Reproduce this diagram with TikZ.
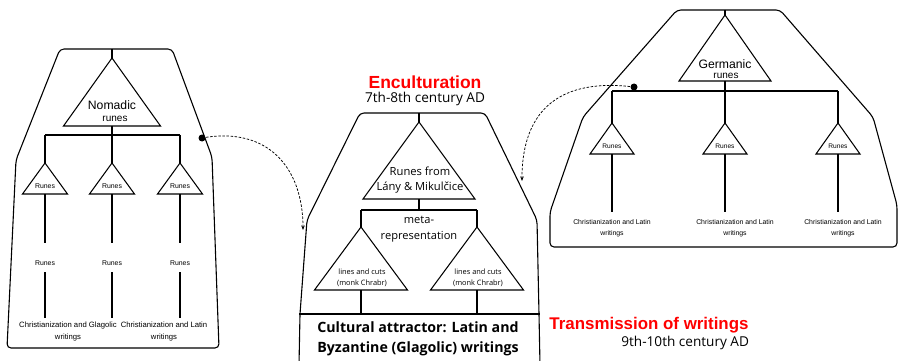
\documentclass[tikz,border=0pt]{standalone}
\usepackage{fontspec}
\setmainfont{Liberation Sans}
\newfontfamily\opensans{Open Sans}
\usetikzlibrary{arrows.meta}
\tikzset{
  ln/.style={line width=1.05pt, black},
  outline/.style={line width=1.1pt, black, rounded corners=4pt},
  tri/.style={line width=1.05pt, black, line join=miter},
  txt/.style={inner sep=0pt, outer sep=0pt, align=center, text=black},
  dashy/.style={line width=0.75pt, dash pattern=on 2.5pt off 1.6pt, -{Stealth[length=4.5pt,width=3.5pt]}},
  dotty/.style={circle, fill=black, minimum size=7pt, inner sep=0pt},
  smallrunes/.style={txt, font=\fontsize{6.9}{8}\selectfont},
  redtitle/.style={txt, text=red, font=\fontsize{17.5}{20}\selectfont\bfseries},
}
\begin{document}
\begin{tikzpicture}[x=1pt,y=-1pt]
\useasboundingbox (0,0) rectangle (898,361);
\fill[white] (0,0) rectangle (898,361);

% ---------------- Left panel ----------------
\draw[outline] (60,49) -- (172,49) -- (212,157) -- (219,348) -- (7,348) -- (16,160) -- cycle;
\coordinate (lTop) at (112,49);
\coordinate (nApex) at (112,58);
\coordinate (nBase) at (112,126);
\draw[tri] (nApex) -- (160.5,126) -- (63.5,126) -- cycle;
\node[txt, font=\fontsize{12.2}{14}\selectfont] (nomadic) at (112,105) {Nomadic};
\node[txt, font=\fontsize{10}{12}\selectfont] (nruneslbl) at (115,119) {runes};
\draw[ln] (lTop) -- (nApex);
\coordinate (lBarM) at (112,135);
\coordinate (lBarL) at (45,135);
\coordinate (lBarR) at (180,135);
\draw[ln] (nBase) -- (lBarM);
\draw[ln] (lBarL) -- (lBarR);
\foreach \cx/\nm in {45/a,112/b,180/c}{
  \coordinate (lA\nm) at (\cx,163);
  \coordinate (lB\nm) at (\cx,194);
  \draw[tri] (lA\nm) -- (\cx+22.5,194) -- (\cx-22.5,194) -- cycle;
  \node[smallrunes] (lR\nm) at (\cx,186) {Runes};
  \node[smallrunes] (lRR\nm) at (\cx,263) {Runes};
  \coordinate (lE\nm) at (\cx,318);
  \draw[ln] (lB\nm) -- (\cx,243);
  \draw[ln] (\cx,272) -- (lE\nm);
}
\draw[ln] (lBarL) -- (lAa);
\draw[ln] (lBarM) -- (lAb);
\draw[ln] (lBarR) -- (lAc);
\node[txt, font=\fontsize{7.7}{12}\selectfont] (lcg) at (68,332) {Christianization and Glagolic\\writings};
\node[txt, font=\fontsize{7.7}{12}\selectfont] (lcl) at (164,332) {Christianization and Latin\\writings};
\node[dotty] (dotL) at (202,138) {};

% ---------------- Middle panel ----------------
\node[redtitle] (encult) at (425,82) {Enculturation};
\node[txt, font=\opensans\fontsize{13.6}{16}\selectfont] (cent78) at (425,99) {7th-8th century AD};
\draw[outline] (299,365) -- (300,314) -- (307,220) -- (360,113) -- (485,113) -- (537,220) -- (539,314) -- (540,365);
\draw[ln] (299,314) -- (540,314);
\coordinate (mTop) at (419,113);
\coordinate (mApex) at (419,122);
\coordinate (mBase) at (419,199);
\draw[tri] (mApex) -- (475,199) -- (363,199) -- cycle;
\draw[ln] (mTop) -- (mApex);
\node[txt, font=\opensans\fontsize{11.2}{15}\selectfont] (lany) at (420,180.5) {Runes from\\Lány \& Mikulčice};
\coordinate (mBarM) at (419,210);
\coordinate (mBarL) at (361,210);
\coordinate (mBarR) at (477,210);
\draw[ln] (mBase) -- (mBarM);
\draw[ln] (mBarL) -- (mBarR);
\node[txt, font=\opensans\fontsize{11.1}{16}\selectfont] (meta) at (419,229) {meta-\\representation};
\foreach \cx/\nm in {361/a,477/b}{
  \coordinate (mA\nm) at (\cx,227);
  \coordinate (mB\nm) at (\cx,290);
  \coordinate (mC\nm) at (\cx,314);
  \draw[tri] (mA\nm) -- (\cx+46.5,290) -- (\cx-46.5,290) -- cycle;
  \node[txt, font=\opensans\fontsize{7.4}{11}\selectfont] (mL\nm) at (\cx+1,277.5) {lines and cuts\\(monk Chrabr)};
  \draw[ln] (mB\nm) -- (mC\nm);
}
\draw[ln] (mBarL) -- (mAa);
\draw[ln] (mBarR) -- (mAb);
\node[txt, font=\opensans\fontsize{14.2}{20}\selectfont\bfseries] (attr) at (418,339) {Cultural attractor: Latin and\\Byzantine (Glagolic) writings};

% ---------------- Right panel ----------------
\draw[outline] (677,10) -- (780,10) -- (873,117) -- (897,205) -- (897,247) -- (550,247) -- (550,212) -- (583,117) -- cycle;
\coordinate (gTop) at (725,10);
\coordinate (gApex) at (725,15);
\coordinate (gBase) at (725,81);
\draw[tri] (gApex) -- (771,81) -- (679,81) -- cycle;
\draw[ln] (gTop) -- (gApex);
\node[txt, font=\fontsize{12.2}{14}\selectfont] (germanic) at (725,64) {Germanic};
\node[txt, font=\fontsize{10}{12}\selectfont] (gruneslbl) at (726,75.5) {runes};
\coordinate (gBarM) at (725,91);
\coordinate (gBarL) at (612,91);
\coordinate (gBarR) at (838,91);
\draw[ln] (gBase) -- (gBarM);
\draw[ln] (gBarL) -- (gBarR);
\foreach \cx/\nm in {612/a,725/b,838/c}{
  \coordinate (gA\nm) at (\cx,123);
  \coordinate (gB\nm) at (\cx,154);
  \coordinate (gE\nm) at (\cx,212);
  \draw[tri] (gA\nm) -- (\cx+22,154) -- (\cx-22,154) -- cycle;
  \node[txt, font=\fontsize{6.6}{8}\selectfont] (gR\nm) at (\cx,146) {Runes};
  \draw[ln] (gB\nm) -- (gE\nm);
}
\draw[ln] (gBarL) -- (gAa);
\draw[ln] (gBarM) -- (gAb);
\draw[ln] (gBarR) -- (gAc);
\node[txt, font=\fontsize{6.9}{10.5}\selectfont] (gc1) at (612,228) {Christianization and Latin\\writings};
\node[txt, font=\fontsize{6.9}{10.5}\selectfont] (gc2) at (735,228) {Christianization and Latin\\writings};
\node[txt, font=\fontsize{6.9}{10.5}\selectfont] (gc3) at (843,228) {Christianization and Latin\\writings};
\node[dotty] (dotR) at (634,87) {};

% ---------------- Transmission ----------------
\node[redtitle, font=\fontsize{16.9}{20}\selectfont\bfseries] (trans) at (649,325) {Transmission of writings};
\node[txt, anchor=east, font=\opensans\fontsize{13.6}{16}\selectfont] (cent910) at (749,343) {9th-10th century AD};

% ---------------- Dashed arrows ----------------
\coordinate (arrL) at (303,230);
\coordinate (arrR) at (522,181);
\draw[dashy] (dotL.center) .. controls (268,126) and (303,168) .. (arrL);
\draw[dashy] (dotR.center) .. controls (562,78) and (522,108) .. (arrR);
\end{tikzpicture}
\end{document}
